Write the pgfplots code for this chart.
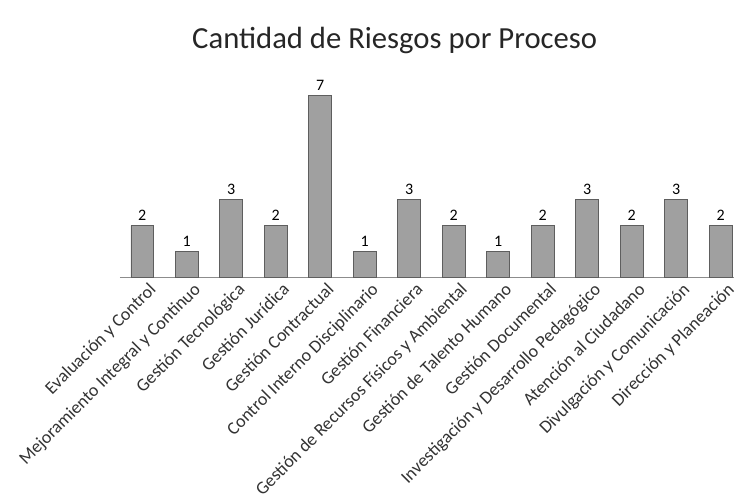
\documentclass[border=0pt]{standalone}
\usepackage{fontspec}
\setmainfont{Carlito}
\usepackage{pgfplots}
\pgfplotsset{compat=1.18}
\definecolor{barfill}{HTML}{A0A0A0}
\definecolor{baredge}{HTML}{5E5E5E}
\definecolor{axline}{HTML}{8C8C8C}
\begin{document}
\begin{tikzpicture}
\path[use as bounding box] (0pt,0pt) rectangle (552pt,374.25pt);
\begin{axis}[
  at={(90pt,166pt)}, anchor=south west,
  scale only axis, width=460.5pt, height=136.5pt,
  xmin=-0.5, xmax=13.3, ymin=0, ymax=7,
  clip=false,
  axis x line*=bottom, axis y line=none,
  x axis line style={draw=axline, line width=0.8pt, -},
  major tick length=0pt,
  ytick=\empty,
  xtick={0,1,2,3,4,5,6,7,8,9,10,11,12,13},
  xticklabels={Evaluación y Control, Mejoramiento Integral y Continuo, Gestión Tecnológica, Gestión Jurídica, Gestión Contractual, Control Interno Disciplinario, Gestión Financiera, Gestión de Recursos Físicos y Ambiental, Gestión de Talento Humano, Gestión Documental, Investigación y Desarrollo Pedagógico, Atención al Ciudadano, Divulgación y Comunicación, Dirección y Planeación},
  x tick label style={rotate=45, anchor=north east, font=\fontsize{13.5}{16}\selectfont, inner sep=1pt, xshift=2pt, yshift=-4pt, text=black!80},
  ybar, bar width=17pt,
  nodes near coords,
  /pgf/number format/assume math mode=true,
  nodes near coords style={font=\fontsize{12}{14}\selectfont, text=black},
]
\addplot[fill=barfill, draw=baredge, line width=0.6pt] coordinates {
(0,2) (1,1) (2,3) (3,2) (4,7) (5,1) (6,3) (7,2) (8,1) (9,2) (10,3) (11,2) (12,3) (13,2)};
\end{axis}
\node[font=\fontsize{23}{27}\selectfont, text=black!85] at (296pt,344pt) {Cantidad de Riesgos por Proceso};
\end{tikzpicture}
\end{document}
